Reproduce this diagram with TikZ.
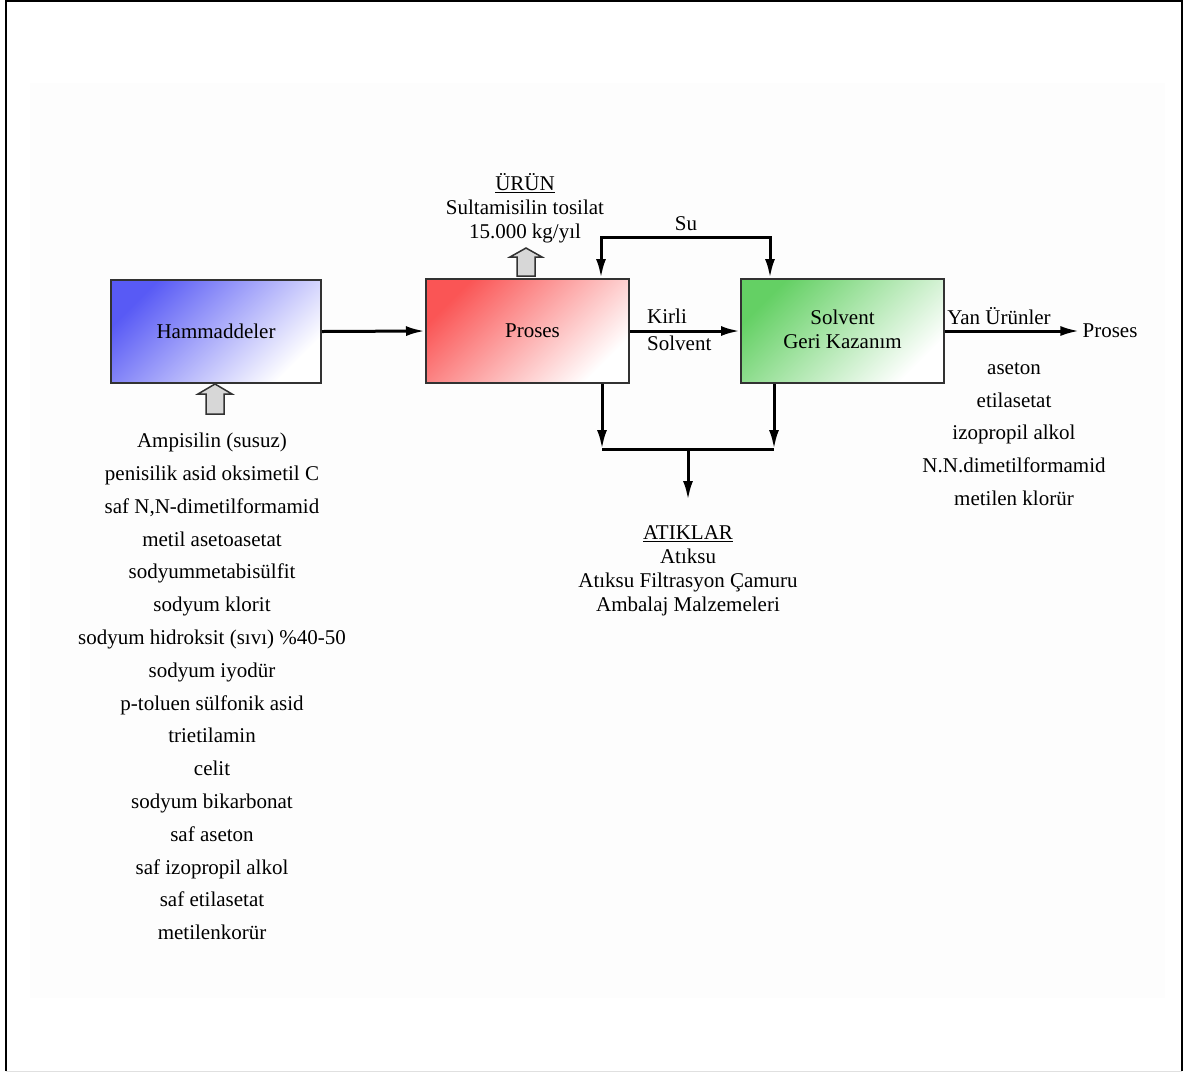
\documentclass[tikz,border=0pt]{standalone}
\usepackage{fontspec}
\setmainfont{Liberation Serif}
\usetikzlibrary{arrows.meta}
\definecolor{rawblue}{RGB}{88,90,245}
\definecolor{procred}{RGB}{250,85,85}
\definecolor{recgreen}{RGB}{100,208,100}
\definecolor{edge}{RGB}{50,50,50}
\definecolor{hollowfill}{RGB}{215,215,215}
\definecolor{backdrop}{RGB}{253,253,253}
\begin{document}
\begin{tikzpicture}[x=1pt,y=-1pt,
  every node/.style={font=\fontsize{21}{24}\selectfont, inner sep=0pt, align=center},
  unit/.style={draw=edge, line width=2pt, minimum width=203pt, minimum height=104pt},
  flow/.style={line width=3pt, -{Latex[length=19pt,width=10pt]}},
  bothflow/.style={line width=3pt, {Latex[length=19pt,width=10pt]}-{Latex[length=19pt,width=10pt]}},
  plain/.style={line width=3pt},
  hollow/.style={draw=edge, line width=1.5pt, fill=hollowfill, line join=miter},
  listtext/.style={font=\fontsize{21}{32.8}\selectfont}
]
\useasboundingbox (0,0) rectangle (1194,1072);
% page frame and faint backdrop
\fill[backdrop] (30,83) rectangle (1165,998);
\draw[line width=2.5pt] (6,1071) -- (6,1) -- (1182,1) -- (1182,1071);
\draw[black!12, line width=1pt] (6,1071) -- (1182,1071);

% process units
\node[unit, minimum width=210pt, minimum height=103pt,
      top color=rawblue, bottom color=white, shading angle=45] (ham) at (216,331.5) {Hammaddeler};
\node[unit, top color=procred, bottom color=white, shading angle=45] (pro) at (527.5,331) {\hspace*{10pt}Proses};
\node[unit, top color=recgreen, bottom color=white, shading angle=45] (sol) at (842.5,331) {\raisebox{3pt}{Solvent}\\\raisebox{3pt}{Geri Kazanım}};

% main flows
\draw[flow] (ham.east) -- (pro.west);
\draw[flow] (pro.east) -- (sol.west);
\node[anchor=west] (kirli) at (647,316) {Kirli};
\node[anchor=west] (kirlisol) at (647,343) {Solvent};

% water loop
\coordinate (suL) at (601,237);
\coordinate (suR) at (770,237);
\draw[bothflow] (pro.north -| suL) -- (suL) -- (suR) -- (sol.north -| suR);
\node (su) at (686,224) {Su};

% waste collection
\coordinate (wL) at (602,449);
\coordinate (wR) at (774,449);
\coordinate (wM) at (688,449);
\coordinate (wEnd) at (688,500);
\draw[flow] (pro.south -| wL) -- (wL);
\draw[flow] (sol.south -| wR) -- (wR);
\draw[plain] (wL) -- (wR);
\draw[flow] (wM) -- (wEnd);
\node (atik) at (688,571) {\underline{ATIKLAR}\\Atıksu\\Atıksu Filtrasyon Çamuru\\Ambalaj Malzemeleri};

% by-products
\node (yan) at (999,316) {Yan Ürünler};
\node (out) at (1110,331) {Proses};
\draw[flow] (sol.east) -- ([xshift=-3pt]out.west);
\node[listtext] (yanlist) at (1014,434) {aseton\\etilasetat\\izopropil alkol\\N.N.dimetilformamid\\metilen klorür};

% product
\draw[hollow, shift={(526,276)}] (-9,0) -- (-9,-19) -- (-16,-19) -- (0,-28) -- (16,-19) -- (9,-19) -- (9,0) -- cycle;
\node (urun) at (525,208) {\underline{ÜRÜN}\\Sultamisilin tosilat\\15.000 kg/yıl};

% raw materials
\draw[hollow, shift={(215,414)}] (-9,0) -- (-9,-20) -- (-17,-20) -- (0,-30) -- (17,-20) -- (9,-20) -- (9,0) -- cycle;
\node[listtext] (rawlist) at (212,686.5) {Ampisilin (susuz)\\penisilik asid oksimetil C\\saf N,N-dimetilformamid\\metil asetoasetat\\sodyummetabisülfit\\sodyum klorit\\sodyum hidroksit (sıvı) \%40-50\\sodyum iyodür\\p-toluen sülfonik asid\\trietilamin\\celit\\sodyum bikarbonat\\saf aseton\\saf izopropil alkol\\saf etilasetat\\metilenkorür};
\end{tikzpicture}
\end{document}
